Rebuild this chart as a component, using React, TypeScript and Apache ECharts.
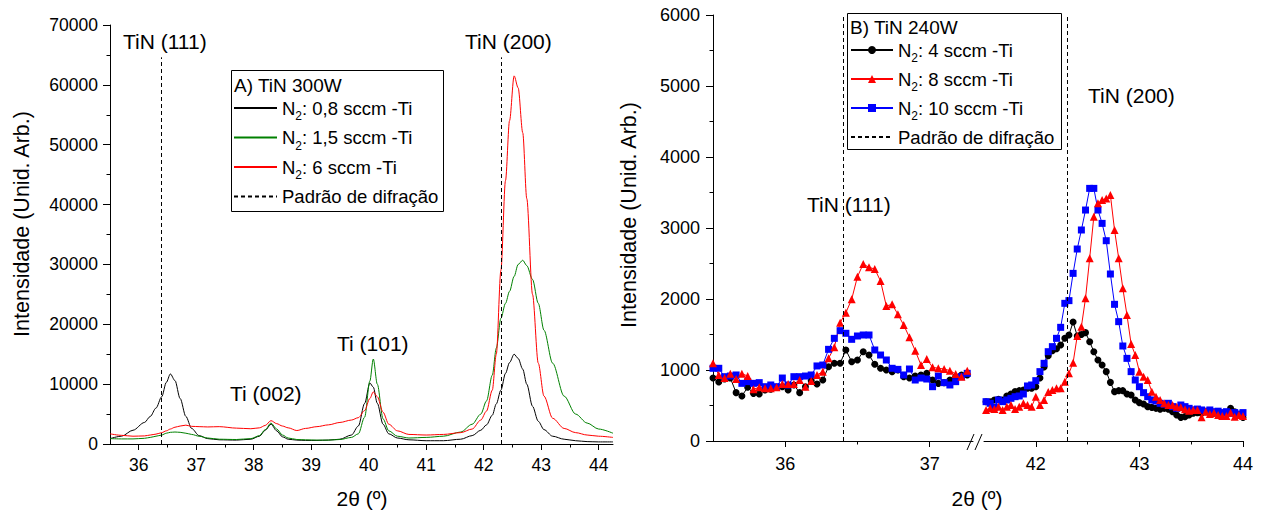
import React, { useEffect, useRef } from "react";
import * as echarts from "echarts";

const FONT = '"Liberation Sans", Arial, Helvetica, sans-serif';

// ---------------- Panel A: TiN 300W ----------------
const A_X = [35.5, 35.7, 35.9, 36.1, 36.2, 36.3, 36.4, 36.48, 36.55, 36.63, 36.72, 36.82, 36.92, 37.05, 37.2, 37.4, 37.7, 37.95, 38.1, 38.2, 38.3, 38.4, 38.5, 38.6, 38.75, 38.9, 39.1, 39.3, 39.5, 39.7, 39.82, 39.93, 40.02, 40.08, 40.15, 40.25, 40.35, 40.5, 40.7, 41.0, 41.3, 41.6, 41.8, 41.95, 42.05, 42.15, 42.22, 42.3, 42.38, 42.45, 42.53, 42.6, 42.68, 42.75, 42.85, 42.95, 43.05, 43.2, 43.4, 43.6, 43.8, 44.0, 44.25];
const A_N2_08 = [900, 1300, 2300, 3600, 4600, 6000, 7900, 10300, 11700, 10600, 7600, 4600, 2600, 1400, 900, 700, 650, 800, 1300, 2300, 3300, 2200, 1200, 800, 650, 600, 600, 650, 800, 1500, 3000, 6800, 10200, 9500, 6800, 3300, 1700, 1000, 700, 550, 550, 800, 1400, 2300, 3200, 4800, 6700, 9000, 11800, 13600, 15000, 14300, 12500, 10000, 6300, 3800, 2400, 1300, 800, 550, 400, 350, 350];
const A_N2_15 = [900, 850, 850, 950, 1100, 1300, 1500, 1800, 1950, 2000, 1950, 1800, 1600, 1300, 1000, 800, 750, 900, 1400, 2400, 3500, 2500, 1500, 1000, 750, 700, 650, 650, 750, 1100, 1700, 4500, 10500, 14200, 10000, 4200, 2200, 1300, 1000, 1100, 1300, 2000, 3300, 5000, 7200, 11500, 16000, 21000, 23500, 25500, 28000, 30000, 30700, 29800, 27500, 23500, 19000, 13500, 8000, 5000, 3500, 2500, 1800];
const A_N2_6 = [1700, 1450, 1300, 1350, 1500, 1650, 1900, 2200, 2500, 2800, 3000, 3150, 2950, 2900, 2850, 2900, 2650, 2550, 2700, 3100, 3900, 3400, 3000, 2700, 2250, 2600, 2900, 3200, 3600, 4000, 4400, 5600, 7600, 8700, 7900, 5300, 3300, 2200, 1600, 1500, 1600, 1900, 2500, 4000, 5500, 9000, 15000, 29000, 44000, 54000, 61500, 59500, 52000, 41000, 25000, 13500, 8000, 4300, 2600, 1900, 1500, 1300, 1100];
const A_PATTERN = [36.4, 42.3];
const A_PATTERN_TOP = 64600;
const A_X_MAJOR = [36, 37, 38, 39, 40, 41, 42, 43, 44];
const A_X_MINOR = [36.5, 37.5, 38.5, 39.5, 40.5, 41.5, 42.5, 43.5];
const A_NAMES = ["N2: 0,8 sccm -Ti", "N2: 1,5 sccm -Ti", "N2: 6 sccm -Ti"];

// ---------------- Panel B: TiN 240W (broken axis) ----------------
const B_X1 = [35.5, 35.54, 35.58, 35.62, 35.66, 35.7, 35.74, 35.78, 35.82, 35.86, 35.9, 35.94, 35.98, 36.02, 36.06, 36.1, 36.14, 36.18, 36.22, 36.26, 36.3, 36.34, 36.38, 36.42, 36.46, 36.5, 36.54, 36.58, 36.62, 36.66, 36.7, 36.74, 36.78, 36.82, 36.86, 36.9, 36.94, 36.98, 37.02, 37.06, 37.1, 37.14, 37.18, 37.22, 37.26];
const B_X2 = [41.52, 41.56, 41.6, 41.64, 41.68, 41.72, 41.76, 41.8, 41.84, 41.88, 41.92, 41.96, 42.0, 42.04, 42.08, 42.12, 42.16, 42.2, 42.24, 42.28, 42.32, 42.36, 42.4, 42.44, 42.48, 42.52, 42.56, 42.6, 42.64, 42.68, 42.72, 42.76, 42.8, 42.84, 42.88, 42.92, 42.96, 43.0, 43.04, 43.08, 43.12, 43.16, 43.2, 43.24, 43.28, 43.32, 43.36, 43.4, 43.44, 43.48, 43.52, 43.56, 43.6, 43.64, 43.68, 43.72, 43.76, 43.8, 43.84, 43.88, 43.92, 43.96, 44.0];
const B_N2_4_1 = [887, 831, 873, 887, 681, 634, 756, 671, 662, 718, 728, 756, 765, 718, 789, 681, 765, 850, 803, 859, 1047, 1094, 1094, 1282, 1117, 1141, 1258, 1211, 1080, 1024, 1000, 977, 1000, 906, 887, 915, 930, 953, 859, 812, 822, 859, 906, 930, 930];
const B_N2_4_2 = [554, 554, 578, 587, 578, 634, 662, 695, 709, 718, 742, 742, 765, 887, 1042, 1200, 1272, 1300, 1352, 1446, 1493, 1676, 1479, 1500, 1526, 1399, 1258, 1141, 1070, 977, 826, 695, 709, 709, 662, 648, 578, 540, 521, 484, 474, 460, 446, 460, 446, 413, 366, 333, 343, 366, 390, 399, 390, 413, 399, 390, 413, 390, 399, 460, 413, 366, 330];
const B_N2_8_1 = [1094, 930, 887, 948, 873, 948, 915, 728, 756, 742, 742, 756, 803, 803, 803, 859, 765, 845, 930, 977, 1164, 1319, 1667, 1808, 1995, 2314, 2493, 2446, 2422, 2253, 1901, 1925, 1784, 1634, 1460, 1272, 1070, 1155, 1038, 1024, 1014, 991, 944, 906, 991];
const B_N2_8_2 = [437, 460, 450, 484, 437, 484, 507, 450, 484, 531, 507, 484, 624, 507, 578, 690, 718, 742, 742, 836, 953, 1103, 1479, 1610, 2010, 2573, 3159, 3347, 3394, 3417, 3464, 2972, 2573, 2150, 1775, 1366, 1211, 977, 906, 859, 695, 624, 578, 531, 507, 507, 484, 474, 446, 427, 437, 437, 333, 413, 380, 399, 366, 352, 352, 399, 343, 366, 352];
const B_N2_10_1 = [1024, 1024, 906, 915, 930, 812, 836, 812, 822, 765, 789, 765, 887, 789, 906, 906, 915, 930, 1057, 1070, 1291, 1446, 1554, 1517, 1432, 1479, 1493, 1493, 1282, 1211, 1141, 1024, 1009, 930, 1014, 859, 887, 873, 765, 915, 822, 789, 836, 906, 953];
const B_N2_10_2 = [554, 531, 474, 578, 554, 578, 601, 624, 634, 662, 775, 789, 850, 977, 1094, 1258, 1329, 1446, 1601, 1939, 1977, 2361, 2704, 2972, 3253, 3558, 3558, 3253, 3065, 2821, 2352, 1925, 1681, 1338, 1164, 977, 859, 765, 681, 624, 578, 563, 531, 517, 531, 484, 460, 507, 484, 460, 437, 450, 437, 420, 437, 413, 420, 400, 413, 390, 400, 380, 400];
const B_PATTERN_1 = 36.4;
const B_PATTERN_2 = 42.3;
const B_PATTERN_TOP = 6000;
const B1_X_MAJOR = [36, 37];
const B1_X_MINOR = [36.5];
const B2_X_MAJOR = [42, 43, 44];
const B2_X_MINOR = [42.5, 43.5];
const B_NAMES = ["N2: 4 sccm -Ti", "N2: 8 sccm -Ti", "N2: 10 sccm -Ti"];

const PATTERN_NAME = "Padrão de difração";

const zip = (xs: number[], ys: number[]) => xs.map((x, i) => [x, ys[i]]);

const DASH = [4, 3];
const axisLine = { show: true, lineStyle: { color: "#000", width: 1 } };

function mainX(grid: number, min: number, max: number, major: number[], fontSize: number, margin: number) {
  return {
    type: "value", gridIndex: grid, min, max, position: "bottom",
    axisLine,
    axisTick: { show: true, length: 6, lineStyle: { color: "#000" }, customValues: major },
    axisLabel: { show: true, customValues: major, fontSize, color: "#000", margin, fontFamily: FONT, formatter: (v: number) => String(v) },
    splitLine: { show: false },
  };
}
function minorX(grid: number, min: number, max: number, minor: number[]) {
  return {
    type: "value", gridIndex: grid, min, max, position: "bottom",
    axisLine: { show: false },
    axisTick: { show: true, length: 3.5, lineStyle: { color: "#000" }, customValues: minor },
    axisLabel: { show: false },
    splitLine: { show: false },
  };
}

const legendFmt = (name: string) => name.replace(/^N2/, "N{sub|2}");
const legendText = {
  fontSize: 18.5, lineHeight: 28, color: "#000", fontFamily: FONT,
  rich: { sub: { fontSize: 12, lineHeight: 12, verticalAlign: "bottom", fontFamily: FONT, color: "#000" } },
};

function txt(text: string, x: number, y: number, fontSize: number, align = "left", rotation = 0) {
  return {
    type: "text", x, y, rotation,
    style: { text, fontSize, fontFamily: FONT, fill: "#000", textAlign: align, textVerticalAlign: "middle", align, verticalAlign: "middle" },
  };
}

function bSeries(name: string, d1: number[], d2: number[], color: string, symbol: string, size: number) {
  const common = { type: "line", name, symbol, symbolSize: size, showSymbol: true, color, itemStyle: { color }, lineStyle: { color, width: 1 } };
  return [
    { ...common, xAxisIndex: 2, yAxisIndex: 1, data: zip(B_X1, d1) },
    { ...common, xAxisIndex: 4, yAxisIndex: 2, data: zip(B_X2, d2) },
  ];
}

const patternLine = (xAxisIndex: number, yAxisIndex: number, xs: number[], top: number) => ({
  type: "line", name: PATTERN_NAME, xAxisIndex, yAxisIndex, data: [], symbol: "none",
  color: "#000", itemStyle: { opacity: 0 }, lineStyle: { color: "#000", width: 1, type: DASH },
  markLine: {
    silent: true, symbol: ["none", "none"], label: { show: false },
    lineStyle: { color: "#000", width: 1, type: DASH, opacity: 1 },
    data: xs.map((x) => [{ coord: [x, 0] }, { coord: [x, top] }]),
  },
});

const option = {
  animation: false,
  backgroundColor: "#fff",
  textStyle: { fontFamily: FONT, color: "#000" },
  grid: [
    { left: 110, top: 25, width: 503, height: 419 },
    { left: 713, top: 15, width: 260, height: 426 },
    { left: 984, top: 15, width: 259, height: 426 },
  ],
  xAxis: [
    mainX(0, 35.5, 44.25, A_X_MAJOR, 17.5, 12),
    minorX(0, 35.5, 44.25, A_X_MINOR),
    mainX(1, 35.5, 37.3, B1_X_MAJOR, 18, 14),
    minorX(1, 35.5, 37.3, B1_X_MINOR),
    mainX(2, 41.5, 44, B2_X_MAJOR, 18, 14),
    minorX(2, 41.5, 44, B2_X_MINOR),
  ],
  yAxis: [
    {
      type: "value", gridIndex: 0, min: 0, max: 70000, interval: 10000, axisLine,
      axisTick: { show: true, length: 7, lineStyle: { color: "#000" } },
      minorTick: { show: true, splitNumber: 2, length: 3.5, lineStyle: { color: "#000" } },
      axisLabel: { fontSize: 17.5, color: "#000", margin: 12, fontFamily: FONT, formatter: (v: number) => String(v) },
      splitLine: { show: false }, minorSplitLine: { show: false },
    },
    {
      type: "value", gridIndex: 1, min: 0, max: 6000, interval: 1000, axisLine,
      axisTick: { show: true, length: 7, lineStyle: { color: "#000" } },
      minorTick: { show: true, splitNumber: 2, length: 3.5, lineStyle: { color: "#000" } },
      axisLabel: { fontSize: 18, color: "#000", margin: 13, fontFamily: FONT, formatter: (v: number) => String(v) },
      splitLine: { show: false }, minorSplitLine: { show: false },
    },
    { type: "value", gridIndex: 2, min: 0, max: 6000, interval: 1000, show: false, splitLine: { show: false } },
  ],
  legend: [
    {
      data: [...A_NAMES, { name: PATTERN_NAME, itemStyle: { opacity: 0 } }], orient: "vertical", left: 233, top: 94,
      itemWidth: 43, itemHeight: 10, itemGap: 1.5, padding: 0, selectedMode: false,
      itemStyle: { opacity: 0 },
      textStyle: legendText, formatter: legendFmt,
    },
    {
      data: [...B_NAMES, { name: PATTERN_NAME, itemStyle: { opacity: 0 } }], orient: "vertical", left: 850, top: 36,
      itemWidth: 42, itemHeight: 10, itemGap: 1, padding: 0, selectedMode: false,
      textStyle: legendText, formatter: legendFmt,
    },
  ],
  series: [
    { type: "line", name: A_NAMES[0], xAxisIndex: 0, yAxisIndex: 0, data: zip(A_X, A_N2_08), symbol: "none", smooth: 0.3, smoothMonotone: "x", color: "#000", lineStyle: { color: "#000", width: 1 } },
    { type: "line", name: A_NAMES[1], xAxisIndex: 0, yAxisIndex: 0, data: zip(A_X, A_N2_15), symbol: "none", smooth: 0.3, smoothMonotone: "x", color: "#008000", lineStyle: { color: "#008000", width: 1 } },
    { type: "line", name: A_NAMES[2], xAxisIndex: 0, yAxisIndex: 0, data: zip(A_X, A_N2_6), symbol: "none", smooth: 0.3, smoothMonotone: "x", color: "#ff0000", lineStyle: { color: "#ff0000", width: 1 } },
    patternLine(0, 0, A_PATTERN, A_PATTERN_TOP),
    ...bSeries(B_NAMES[0], B_N2_4_1, B_N2_4_2, "#000000", "circle", 7),
    ...bSeries(B_NAMES[2], B_N2_10_1, B_N2_10_2, "#0000ff", "rect", 7),
    ...bSeries(B_NAMES[1], B_N2_8_1, B_N2_8_2, "#ff0000", "triangle", 8),
    patternLine(2, 1, [B_PATTERN_1], B_PATTERN_TOP),
    patternLine(4, 2, [B_PATTERN_2], B_PATTERN_TOP),
  ],
  graphic: [
    { type: "rect", shape: { x: 231.5, y: 70.5, width: 212, height: 141 }, style: { fill: "none", stroke: "#000", lineWidth: 1 } },
    { type: "rect", shape: { x: 847.5, y: 13.5, width: 214, height: 136 }, style: { fill: "none", stroke: "#000", lineWidth: 1 } },
    txt("A) TiN 300W", 234, 85, 19),
    txt("B) TiN 240W", 850, 27, 19),
    txt("TiN (111)", 123, 41, 21),
    txt("TiN (200)", 465, 41, 21),
    txt("Ti (002)", 230, 393, 21),
    txt("Ti (101)", 337, 343, 21),
    txt("TiN (111)", 807, 204, 21),
    txt("TiN (200)", 1088, 95, 21),
    txt("Intensidade (Unid. Arb.)", 22, 224, 21.5, "center", Math.PI / 2),
    txt("Intensidade (Unid. Arb.)", 629, 215, 21.5, "center", Math.PI / 2),
    txt("2θ (º)", 362, 498, 21, "center"),
    txt("2θ (º)", 977, 498, 21, "center"),
    { type: "line", shape: { x1: 967, y1: 450, x2: 974, y2: 434 }, style: { stroke: "#000", lineWidth: 1 } },
    { type: "line", shape: { x1: 975, y1: 450, x2: 982, y2: 434 }, style: { stroke: "#000", lineWidth: 1 } },
  ],
};

export default function App() {
  const ref = useRef<HTMLDivElement>(null);
  useEffect(() => {
    const chart = echarts.init(ref.current!, null, { renderer: "svg" });
    chart.setOption(option as any);
    return () => chart.dispose();
  }, []);
  return <div ref={ref} style={{ position: "absolute", left: 0, top: 0, width: 1267, height: 514 }} />;
}
